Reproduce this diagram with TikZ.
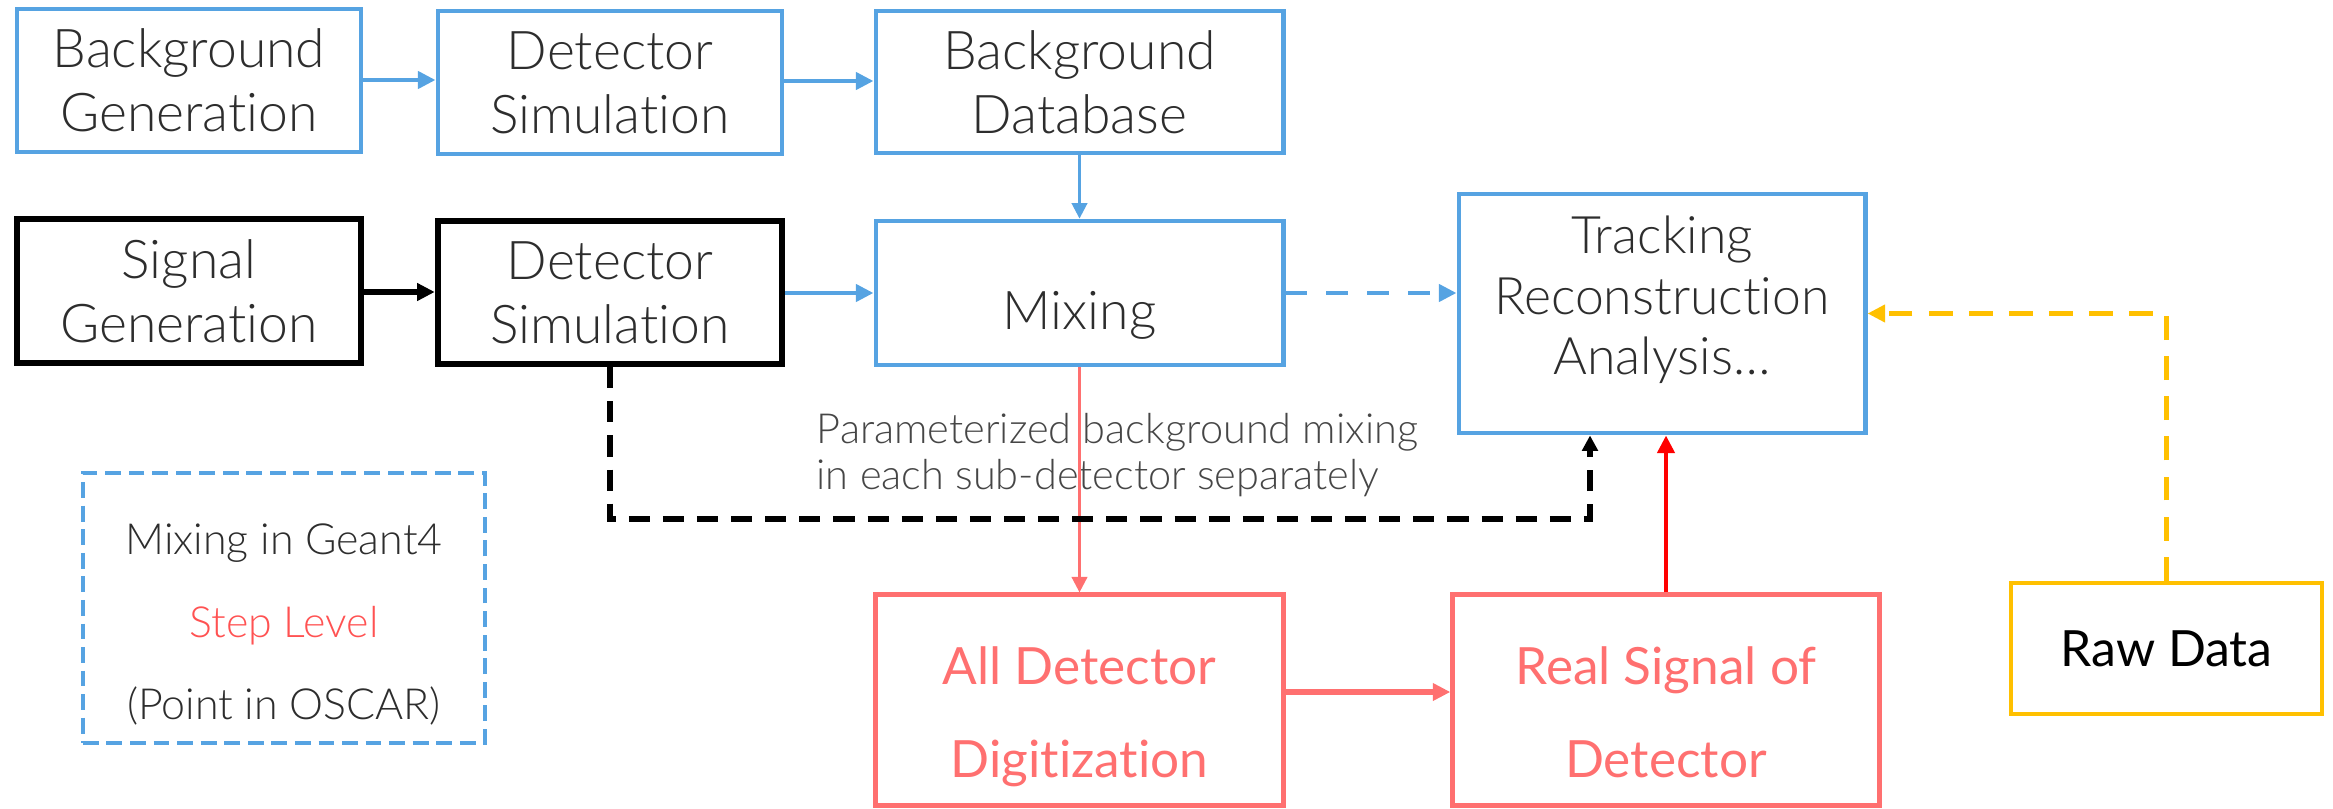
\documentclass[tikz,border=0pt]{standalone}
\usepackage{fontspec}
\setmainfont{Lato}[UprightFont={* Light}, Ligatures=NoCommon]
\newfontfamily\regularfont{Lato}[Ligatures=NoCommon]
\usetikzlibrary{arrows.meta}

\definecolor{flowblue}{RGB}{86,163,226}
\definecolor{digired}{RGB}{255,112,112}
\definecolor{sigred}{RGB}{255,0,0}
\definecolor{steplevel}{RGB}{255,82,82}
\definecolor{rawgold}{RGB}{255,192,0}
\definecolor{inkgray}{RGB}{45,45,45}
\definecolor{notegray}{RGB}{70,70,70}

\begin{document}
\begin{tikzpicture}[x=0.01cm, y=-0.01cm,
  boxfont/.style={font=\fontsize{15.2}{18.1}\selectfont},
  flowbox/.style={draw, align=center, inner sep=0pt, boxfont, text=inkgray},
  bluebox/.style={flowbox, draw=flowblue, line width=1.35pt},
  blackbox/.style={flowbox, draw=black, line width=1.8pt},
  redbox/.style={flowbox, draw=digired, line width=1.45pt},
  rawbox/.style={flowbox, draw=rawgold, line width=1.35pt, text=black, font=\regularfont\fontsize{14.2}{18.1}\selectfont},
  boxtext/.style={align=center, inner sep=0pt, text=inkgray},
  redtext/.style={boxtext, text=digired, font=\regularfont\fontsize{14.6}{26.4}\selectfont},
  bigtip/.style={-{Triangle[length=5pt,width=4.8pt]}},
  smalltip/.style={-{Triangle[length=4.4pt,width=4.4pt]}},
  blueflow/.style={bigtip, draw=flowblue, line width=1.3pt},
  bluethin/.style={smalltip, draw=flowblue, line width=0.75pt},
  blueflowdash/.style={bigtip, draw=flowblue, line width=1.4pt, dash pattern=on 6.2pt off 5.4pt},
  blackflow/.style={bigtip, draw=black, line width=1.7pt},
  blackdash/.style={smalltip, draw=black, line width=1.6pt, dash pattern=on 6pt off 3.7pt},
  redthin/.style={smalltip, draw=digired, line width=0.75pt},
  redflow/.style={bigtip, draw=digired, line width=1.45pt},
  sigflow/.style={bigtip, draw=sigred, line width=1.35pt},
  golddash/.style={bigtip, draw=rawgold, line width=1.4pt, dash pattern=on 6.8pt off 4.6pt}
]
\useasboundingbox (0,0) rectangle (2333,809);

% background chain
\node[bluebox, minimum width=3.44cm, minimum height=1.43cm] (bggen) at (189,80.5) {Background\\Generation};
\node[bluebox, minimum width=3.44cm, minimum height=1.43cm] (bgsim) at (610,82.5) {Detector\\Simulation};
\node[bluebox, minimum width=4.07cm, minimum height=1.42cm] (bgdb) at (1079.5,82) {Background\\Database};

% signal chain
\node[blackbox, minimum width=3.44cm, minimum height=1.44cm] (siggen) at (189,291) {Signal\\Generation};
\node[blackbox, minimum width=3.44cm, minimum height=1.43cm] (sigsim) at (610,292.5) {Detector\\Simulation};

% mixing and analysis
\node[bluebox, minimum width=4.07cm, minimum height=1.44cm] (mix) at (1079.5,293) {};
\node[boxtext, anchor=north, boxfont] (mixtxt) at (1079.5,291) {Mixing};
\node[bluebox, minimum width=4.06cm, minimum height=2.39cm] (track) at (1662,313.5) {};
\node[boxtext, anchor=north, font=\fontsize{14.7}{17.3}\selectfont] (tracktxt) at (1662,215) {Tracking\\Reconstruction\\Analysis…};

% legend
\node[draw=flowblue, line width=1.2pt, dash pattern=on 4.5pt off 2.2pt, minimum width=4.02cm, minimum height=2.70cm] (legend) at (284,608) {};
\node[boxtext, anchor=north, font=\fontsize{12.2}{23.5}\selectfont] (legendtxt) at (284,523) {Mixing in Geant4\\\textcolor{steplevel}{Step Level}\\(Point in OSCAR)};

% digitization
\node[redbox, minimum width=4.07cm, minimum height=2.10cm] (digi) at (1079.5,700) {};
\node[redtext, anchor=north] (digitxt) at (1079.5,646) {All Detector\\Digitization};
\node[redbox, minimum width=4.26cm, minimum height=2.10cm] (real) at (1666,700) {};
\node[redtext, anchor=north] (realtxt) at (1666,646) {Real Signal of\\Detector};

% raw data
\node[rawbox, minimum width=3.11cm, minimum height=1.31cm] (raw) at (2166.5,648.5) {Raw Data};

% note on the parameterized path
\node[anchor=north west, align=left, inner sep=0pt, font=\fontsize{11.8}{13}\selectfont, text=notegray] (note) at (816,413) {Parameterized background mixing\\in each sub-detector separately};

% connectors
\draw[blueflow] (bggen.east |- 0,80) -- (bgsim.west |- 0,80);
\draw[blueflow] (bgsim.east |- 0,81) -- (bgdb.west |- 0,81);
\draw[bluethin] (bgdb.south) -- (mix.north);
\draw[blackflow] (siggen.east |- 0,292) -- (sigsim.west |- 0,292);
\draw[blueflow] (sigsim.east |- 0,293) -- (mix.west |- 0,293);
\draw[blueflowdash] (mix.east |- 0,293) -- (track.west |- 0,293);
\draw[redthin] (mix.south) -- (digi.north);
\draw[redflow] (digi.east |- 0,692) -- (real.west |- 0,692);
\draw[sigflow] (real.north) -- (real.north |- track.south);
\coordinate (paramturn) at (1590,519);
\draw[blackdash] (sigsim.south) |- (paramturn) -- (paramturn |- track.south);
\draw[golddash] (raw.north) |- (track.east);
\end{tikzpicture}
\end{document}
